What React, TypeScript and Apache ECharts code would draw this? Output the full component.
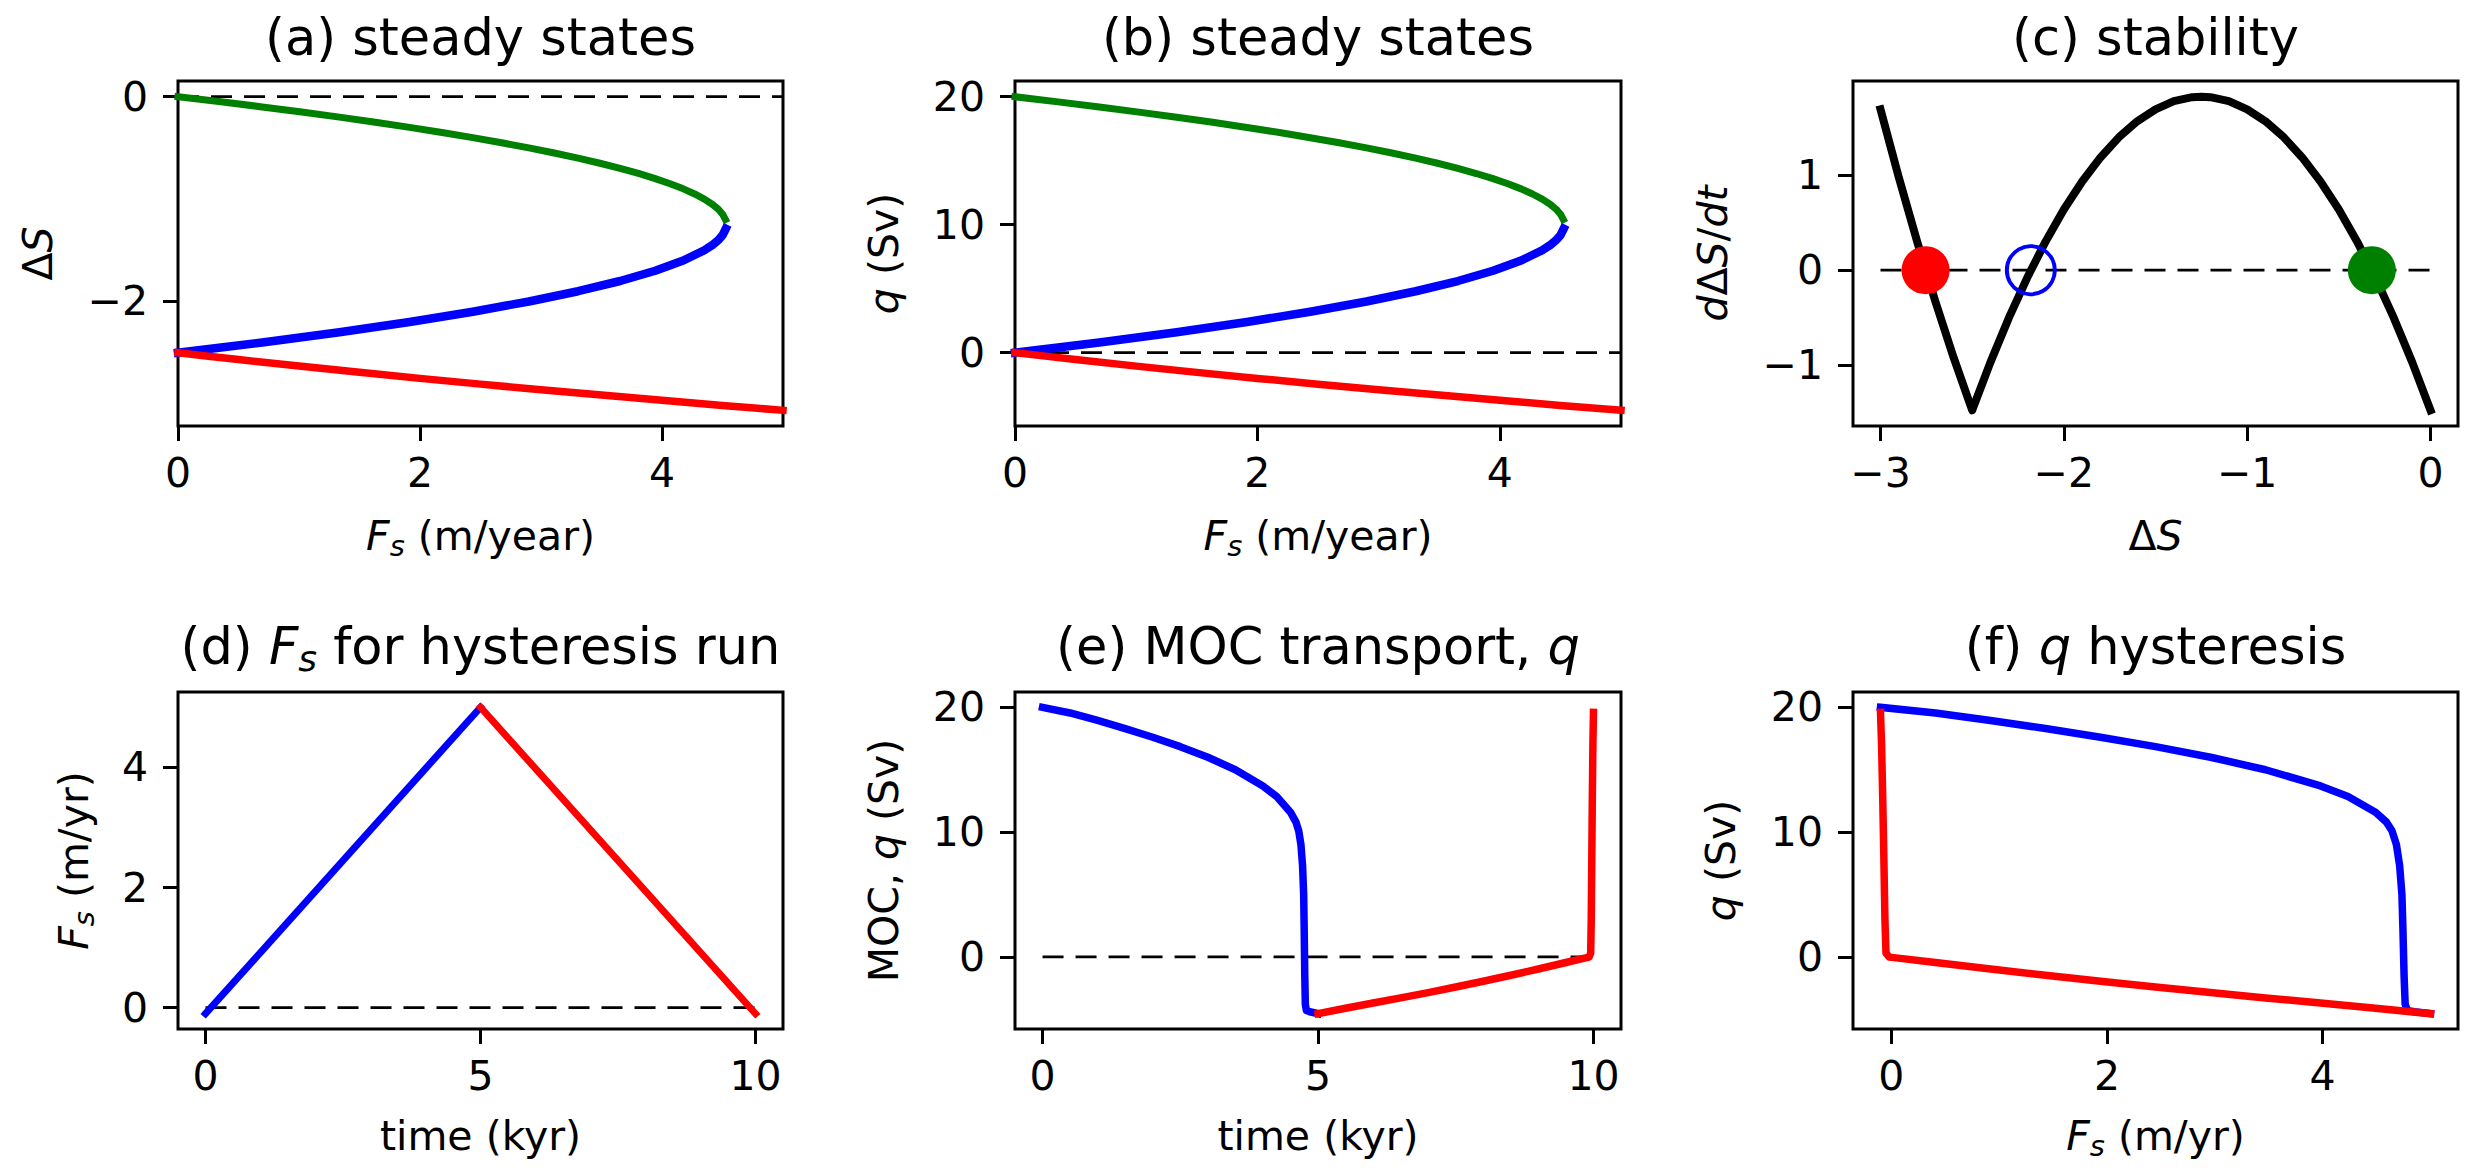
import React, { useEffect, useRef } from "react";
import * as echarts from "echarts";

const W = 2470;
const H = 1173;
const FONT = "DejaVu Sans";
const BLUE = "#0000ff";
const RED = "#ff0000";
const GREEN = "#008000";
const BLACK = "#000000";

// ---------- (a),(b) steady states ----------
const greenDS = [0, -0.05, -0.1, -0.15, -0.2, -0.25, -0.3, -0.35, -0.4, -0.45, -0.5, -0.55, -0.6, -0.65, -0.7, -0.75, -0.8, -0.85, -0.9, -0.95, -1.0, -1.05, -1.1, -1.15, -1.2];
const greenFs = [0, 0.355, 0.696, 1.022, 1.334, 1.631, 1.914, 2.182, 2.436, 2.675, 2.9, 3.11, 3.306, 3.487, 3.654, 3.806, 3.944, 4.067, 4.176, 4.27, 4.35, 4.415, 4.466, 4.502, 4.524];
const greenQ = [20, 19.6, 19.2, 18.8, 18.4, 18, 17.6, 17.2, 16.8, 16.4, 16, 15.6, 15.2, 14.8, 14.4, 14, 13.6, 13.2, 12.8, 12.4, 12, 11.6, 11.2, 10.8, 10.4];

const blueDS = [-1.29, -1.35, -1.4, -1.45, -1.5, -1.6, -1.7, -1.8, -1.9, -2.0, -2.1, -2.2, -2.3, -2.4, -2.45, -2.5];
const blueFs = [4.527, 4.502, 4.466, 4.415, 4.35, 4.176, 3.944, 3.654, 3.306, 2.9, 2.436, 1.914, 1.334, 0.696, 0.355, 0];
const blueQ = [9.68, 9.2, 8.8, 8.4, 8.0, 7.2, 6.4, 5.6, 4.8, 4.0, 3.2, 2.4, 1.6, 0.8, 0.4, 0];

const redFs = [0, 0.25, 0.5, 1, 1.5, 2, 2.5, 3, 3.5, 4, 4.5, 5];
const redDS = [-2.5, -2.534, -2.567, -2.631, -2.692, -2.751, -2.807, -2.862, -2.914, -2.965, -3.015, -3.063];
const redQ = [0, -0.27, -0.54, -1.05, -1.54, -2.01, -2.46, -2.89, -3.31, -3.72, -4.12, -4.5];

// ---------- (c) stability ----------
const stabDS = [-3, -2.9, -2.8, -2.7, -2.6, -2.5, -2.4, -2.3, -2.2, -2.1, -2.0, -1.9, -1.8, -1.7, -1.6, -1.5, -1.4, -1.3, -1.25, -1.2, -1.1, -1.0, -0.9, -0.8, -0.7, -0.6, -0.5, -0.4, -0.3, -0.2, -0.1, 0];
const stabRate = [1.688, 0.973, 0.299, -0.333, -0.923, -1.47, -0.965, -0.501, -0.08, 0.299, 0.636, 0.93, 1.183, 1.394, 1.562, 1.688, 1.773, 1.815, 1.82, 1.815, 1.773, 1.688, 1.562, 1.394, 1.183, 0.93, 0.636, 0.299, -0.08, -0.501, -0.965, -1.47];
const fixedDS = [-2.754, -2.18, -0.32];
const fixedRate = [0, 0, 0];

// ---------- (d) forcing ----------
const rampUpT = [0, 5];
const rampUpFs = [-0.1, 5.0];
const rampDownT = [5, 10];
const rampDownFs = [5.0, -0.1];

// ---------- (e),(f) hysteresis run ----------
const upT = [0, 0.5, 1, 1.5, 2, 2.5, 3, 3.5, 4, 4.25, 4.5, 4.6, 4.65, 4.69, 4.72, 4.74, 4.75, 4.76, 4.77, 4.79, 4.85, 5.0];
const upQ = [20, 19.55, 18.95, 18.3, 17.6, 16.85, 16.0, 15.0, 13.7, 12.85, 11.6, 10.8, 10.1, 9.0, 7.3, 5.0, 2.0, -1.5, -3.8, -4.3, -4.4, -4.55];
const upFsRun = [-0.1, 0.41, 0.92, 1.43, 1.94, 2.45, 2.96, 3.47, 3.98, 4.235, 4.49, 4.592, 4.643, 4.684, 4.714, 4.735, 4.745, 4.755, 4.765, 4.786, 4.847, 5.0];

const downT = [5, 5.5, 6, 6.5, 7, 7.5, 8, 8.5, 9, 9.5, 9.8, 9.92, 9.95, 9.96, 9.97, 9.98, 9.99, 10];
const downQ = [-4.55, -4.12, -3.7, -3.29, -2.86, -2.41, -1.95, -1.47, -0.97, -0.45, -0.14, -0.02, 0.3, 3, 8, 13, 17, 19.6];
const downFsRun = [5, 4.49, 3.98, 3.47, 2.96, 2.45, 1.94, 1.43, 0.92, 0.41, 0.104, -0.018, -0.049, -0.059, -0.069, -0.08, -0.09, -0.1];

// ---------- ticks ----------
const aXTicks = [0, 2, 4];
const aYTicks = [-2, 0];
const bXTicks = [0, 2, 4];
const bYTicks = [0, 10, 20];
const cXTicks = [-3, -2, -1, 0];
const cYTicks = [-1, 0, 1];
const dXTicks = [0, 5, 10];
const dYTicks = [0, 2, 4];
const eXTicks = [0, 5, 10];
const eYTicks = [0, 10, 20];
const fXTicks = [0, 2, 4];
const fYTicks = [0, 10, 20];

// zero reference lines (x extents)
const zeroA = [0, 5];
const zeroB = [0, 5];
const zeroC = [-3, 0];
const zeroD = [0, 10];
const zeroE = [0, 10];

type Panel = {
  left: number; top: number; width: number; height: number;
  xr: number[]; yr: number[]; xt: number[]; yt: number[];
};

const PANELS: Panel[] = [
  { left: 178, top: 81, width: 605, height: 345, xr: [0, 5], yr: [-3.216, 0.153], xt: aXTicks, yt: aYTicks },
  { left: 1015, top: 81, width: 606, height: 345, xr: [0, 5], yr: [-5.73, 21.23], xt: bXTicks, yt: bYTicks },
  { left: 1853, top: 81, width: 605, height: 345, xr: [-3.15, 0.15], yr: [-1.635, 1.985], xt: cXTicks, yt: cYTicks },
  { left: 178, top: 692, width: 605, height: 337, xr: [-0.5, 10.5], yr: [-0.355, 5.255], xt: dXTicks, yt: dYTicks },
  { left: 1015, top: 692, width: 606, height: 337, xr: [-0.5, 10.5], yr: [-5.78, 21.23], xt: eXTicks, yt: eYTicks },
  { left: 1853, top: 692, width: 605, height: 337, xr: [-0.355, 5.255], yr: [-5.78, 21.23], xt: fXTicks, yt: fYTicks },
];

const pts = (xs: number[], ys: number[]) => xs.map((x, i) => [x, ys[i]]);
const fmt = (v: number) => (v < 0 ? "\u2212" + String(-v) : String(v));

const TICK_FS = 41;
const LABEL_FS = 41;
const TITLE_FS = 51;

function richFor(fs: number) {
  const lh = Math.round(fs * 1.2);
  const subLh = Math.round(fs * 0.672);
  return {
    n: { fontSize: fs, fontFamily: FONT, fill: BLACK, lineHeight: lh, verticalAlign: "middle" },
    i: { fontSize: fs, fontFamily: FONT, fontStyle: "italic", fill: BLACK, lineHeight: lh, verticalAlign: "middle" },
    s: { fontSize: Math.round(fs * 0.7), fontFamily: FONT, fontStyle: "italic", fill: BLACK, lineHeight: subLh, verticalAlign: "bottom" },
  };
}

function txt(x: number, y: number, text: string, fs: number, rot = 0) {
  return {
    type: "text",
    x,
    y,
    rotation: rot,
    silent: true,
    z: 10,
    style: {
      text,
      fontSize: fs,
      fontFamily: FONT,
      fill: BLACK,
      align: "center",
      verticalAlign: "middle",
      textAlign: "center",
      textVerticalAlign: "middle",
      rich: richFor(fs),
    },
  };
}

function curve(k: number, xs: number[], ys: number[], color: string, width: number) {
  return {
    type: "line",
    xAxisIndex: k,
    yAxisIndex: k,
    data: pts(xs, ys),
    symbol: "none",
    showSymbol: false,
    lineStyle: { color, width, cap: "square", join: "round", opacity: 1 },
    z: 3,
    silent: true,
    animation: false,
  };
}

function zeroLine(k: number, ext: number[]) {
  return {
    type: "line",
    xAxisIndex: k,
    yAxisIndex: k,
    data: [[ext[0], 0], [ext[1], 0]],
    symbol: "none",
    showSymbol: false,
    lineStyle: { color: BLACK, width: 2.7, type: [21, 12], cap: "butt", opacity: 1 },
    z: 2,
    silent: true,
    animation: false,
  };
}

function marker(k: number, x: number, y: number, style: any) {
  return {
    type: "scatter",
    xAxisIndex: k,
    yAxisIndex: k,
    data: [[x, y]],
    symbol: "circle",
    symbolSize: 48,
    itemStyle: { opacity: 1, ...style },
    z: 5,
    silent: true,
    animation: false,
  };
}

function buildOption() {
  const grid = PANELS.map((p) => ({
    left: p.left,
    top: p.top,
    width: p.width,
    height: p.height,
    show: true,
    borderColor: BLACK,
    borderWidth: 3,
    backgroundColor: "rgba(0,0,0,0)",
    containLabel: false,
    outerBoundsMode: "none",
  }));

  const axisCommon = (ticks: number[], margin: number) => ({
    type: "value",
    axisLine: { show: false, onZero: false },
    splitLine: { show: false },
    axisTick: { show: true, inside: false, length: 15, lineStyle: { color: BLACK, width: 3 }, customValues: ticks },
    axisLabel: {
      show: true,
      customValues: ticks,
      formatter: fmt,
      margin,
      fontSize: TICK_FS,
      fontFamily: FONT,
      color: BLACK,
      lineHeight: TICK_FS,
      hideOverlap: false,
    },
  });

  const xAxis = PANELS.map((p, i) => ({
    ...axisCommon(p.xt, 26),
    gridIndex: i,
    position: "bottom",
    min: p.xr[0],
    max: p.xr[1],
  }));
  const yAxis = PANELS.map((p, i) => ({
    ...axisCommon(p.yt, 30),
    gridIndex: i,
    position: "left",
    min: p.yr[0],
    max: p.yr[1],
  }));

  const series: any[] = [
    // (a)
    zeroLine(0, zeroA),
    curve(0, greenFs, greenDS, GREEN, 7),
    curve(0, blueFs, blueDS, BLUE, 8.5),
    curve(0, redFs, redDS, RED, 7.5),
    // (b)
    zeroLine(1, zeroB),
    curve(1, greenFs, greenQ, GREEN, 7),
    curve(1, blueFs, blueQ, BLUE, 8.5),
    curve(1, redFs, redQ, RED, 7.5),
    // (c)
    zeroLine(2, zeroC),
    curve(2, stabDS, stabRate, BLACK, 8),
    marker(2, fixedDS[0], fixedRate[0], { color: RED }),
    marker(2, fixedDS[1], fixedRate[1], { color: "rgba(0,0,0,0)", borderColor: BLUE, borderWidth: 4 }),
    marker(2, fixedDS[2], fixedRate[2], { color: GREEN }),
    // (d)
    zeroLine(3, zeroD),
    curve(3, rampUpT, rampUpFs, BLUE, 7),
    curve(3, rampDownT, rampDownFs, RED, 7),
    // (e)
    zeroLine(4, zeroE),
    curve(4, upT, upQ, BLUE, 7.5),
    curve(4, downT, downQ, RED, 7.5),
    // (f)
    curve(5, upFsRun, upQ, BLUE, 7.5),
    curve(5, downFsRun, downQ, RED, 7.5),
  ];

  const cx = PANELS.map((p) => p.left + p.width / 2);
  const T1 = 37.4;
  const T2 = 646.4;
  const X1 = 535.8;
  const X2 = 1135.8;
  const Y1 = 253.5;
  const Y2 = 860.5;
  const R = Math.PI / 2;
  const NB = "\u00a0";

  const graphic = [
    txt(cx[0], T1, `{n|(a) steady states}`, TITLE_FS),
    txt(cx[1], T1, `{n|(b) steady states}`, TITLE_FS),
    txt(cx[2], T1, `{n|(c) stability}`, TITLE_FS),
    txt(cx[3], T2, `{n|(d)${NB}}{i|F}{s|s}{n|${NB}for hysteresis run}`, TITLE_FS),
    txt(cx[4], T2, `{n|(e) MOC transport,${NB}}{i|q}`, TITLE_FS),
    txt(cx[5], T2, `{n|(f)${NB}}{i|q}{n|${NB}hysteresis}`, TITLE_FS),

    txt(cx[0], X1, `{i|F}{s|s}{n|${NB}(m/year)}`, LABEL_FS),
    txt(cx[1], X1, `{i|F}{s|s}{n|${NB}(m/year)}`, LABEL_FS),
    txt(cx[2], X1, `{n|Δ}{i|S}`, LABEL_FS),
    txt(cx[3], X2, `{n|time (kyr)}`, LABEL_FS),
    txt(cx[4], X2, `{n|time (kyr)}`, LABEL_FS),
    txt(cx[5], X2, `{i|F}{s|s}{n|${NB}(m/yr)}`, LABEL_FS),

    txt(38, Y1, `{n|Δ}{i|S}`, LABEL_FS, R),
    txt(884, Y1, `{i|q}{n|${NB}(Sv)}`, LABEL_FS, R),
    txt(1713, Y1, `{i|d}{n|Δ}{i|S}{n|/}{i|dt}`, LABEL_FS, R),
    txt(74, Y2, `{i|F}{s|s}{n|${NB}(m/yr)}`, LABEL_FS, R),
    txt(884, Y2, `{n|MOC,${NB}}{i|q}{n|${NB}(Sv)}`, LABEL_FS, R),
    txt(1721, Y2, `{i|q}{n|${NB}(Sv)}`, LABEL_FS, R),
  ];

  return {
    animation: false,
    backgroundColor: "#ffffff",
    textStyle: { fontFamily: FONT },
    grid,
    xAxis,
    yAxis,
    series,
    graphic,
  };
}

export default function App() {
  const ref = useRef<HTMLDivElement>(null);
  useEffect(() => {
    document.body.style.margin = "0";
    const el = ref.current;
    if (!el) return;
    const chart = echarts.init(el, null, { renderer: "svg", width: W, height: H });
    chart.setOption(buildOption() as any);
    return () => {
      chart.dispose();
    };
  }, []);
  return (
    <div
      ref={ref}
      style={{ position: "absolute", left: 0, top: 0, width: W, height: H, background: "#ffffff" }}
    />
  );
}
